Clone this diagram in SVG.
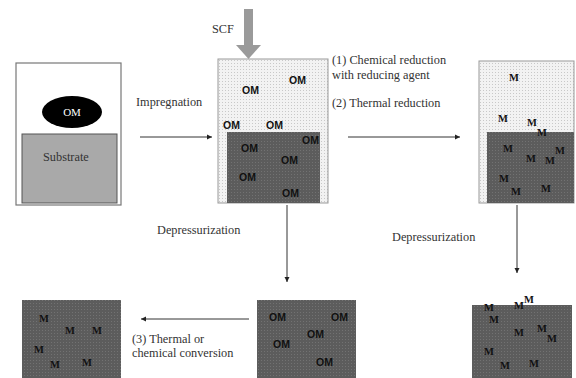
<svg xmlns="http://www.w3.org/2000/svg" width="576" height="378" viewBox="0 0 576 378">
<defs>
<pattern id="light" width="3" height="3" patternUnits="userSpaceOnUse">
<rect width="3" height="3" fill="#f2f2f2"/>
<rect width="1" height="1" fill="#c8c8c8"/>
</pattern>
<pattern id="dark" width="3" height="3" patternUnits="userSpaceOnUse">
<rect width="3" height="3" fill="#5c5c5c"/>
<rect width="1" height="1" fill="#727272"/>
</pattern>
<marker id="ah" markerWidth="6" markerHeight="6" refX="5" refY="3" orient="auto" markerUnits="userSpaceOnUse">
<path d="M0,0.5 L5,3 L0,5.5 Z" fill="#222"/>
</marker>
<style>
.lbl{font-family:"Liberation Serif",serif;font-size:12.3px;fill:#333}
.om{font-family:"Liberation Sans",Arial,sans-serif;font-weight:bold;font-size:10.5px;fill:#111}
.m{font-family:"Liberation Serif",serif;font-weight:bold;font-size:10.5px;fill:#111}
.conn{stroke:#333;stroke-width:1;fill:none;marker-end:url(#ah)}
</style>
</defs>
<rect width="576" height="378" fill="#fff"/>

<g id="connectors">
<line class="conn" x1="140" y1="137" x2="212" y2="137"/>
<line class="conn" x1="348" y1="137" x2="460" y2="137"/>
<line class="conn" x1="287" y1="205" x2="287" y2="282"/>
<line class="conn" x1="517" y1="205" x2="517" y2="273"/>
<line class="conn" x1="249" y1="319" x2="141" y2="319"/>
<g id="scf">
<rect x="244" y="9" width="9" height="37" fill="#9a9a9a"/>
<path d="M236,45 L261,45 L248.5,59 Z" fill="#9a9a9a"/>
</g>
<text class="lbl" x="212" y="33">SCF</text>
<text class="lbl" x="136" y="106">Impregnation</text>
<text class="lbl" x="332" y="64">(1) Chemical reduction</text>
<text class="lbl" x="332" y="79">with reducing agent</text>
<text class="lbl" x="332" y="107">(2) Thermal reduction</text>
<text class="lbl" x="157" y="234">Depressurization</text>
<text class="lbl" x="392" y="241">Depressurization</text>
<text class="lbl" x="132" y="343">(3) Thermal or</text>
<text class="lbl" x="132" y="357">chemical conversion</text>
</g>

<g id="start">
<rect x="16" y="63" width="105" height="142" fill="#fff" stroke="#777" stroke-width="1.2"/>
<rect x="22" y="134" width="95" height="69" fill="#a9a9a9" stroke="#555" stroke-width="1"/>
<ellipse cx="72" cy="112" rx="30" ry="16" fill="#000"/>
<text x="72" y="116" text-anchor="middle" font-family="Liberation Serif,serif" font-size="11" fill="#fff">OM</text>
<text class="lbl" x="43" y="161">Substrate</text>
</g>

<g id="impregnated">
<rect x="218" y="59" width="110" height="144" fill="url(#light)" stroke="#999" stroke-width="1"/>
<rect x="227" y="132" width="93" height="71" fill="url(#dark)"/>
<text class="om" x="242" y="94">OM</text>
<text class="om" x="289" y="84">OM</text>
<text class="om" x="223" y="129">OM</text>
<text class="om" x="266" y="129">OM</text>
<text class="om" x="241" y="152">OM</text>
<text class="om" x="302" y="144">OM</text>
<text class="om" x="281" y="164">OM</text>
<text class="om" x="239" y="181">OM</text>
<text class="om" x="282" y="197">OM</text>
</g>

<g id="reduced">
<rect x="479" y="61" width="95" height="142" fill="url(#light)" stroke="#999" stroke-width="1"/>
<rect x="487" y="132" width="87" height="71" fill="url(#dark)"/>
<text class="m" x="509" y="81">M</text>
<text class="m" x="498" y="122">M</text>
<text class="m" x="527" y="126">M</text>
<text class="m" x="537" y="136">M</text>
<text class="m" x="503" y="152">M</text>
<text class="m" x="526" y="162">M</text>
<text class="m" x="545" y="164">M</text>
<text class="m" x="555" y="154">M</text>
<text class="m" x="499" y="182">M</text>
<text class="m" x="511" y="195">M</text>
<text class="m" x="541" y="192">M</text>
</g>

<g id="depressurized-om">
<rect x="257" y="300" width="99" height="78" fill="url(#dark)"/>
<text class="om" x="269" y="321">OM</text>
<text class="om" x="331" y="321">OM</text>
<text class="om" x="307" y="338">OM</text>
<text class="om" x="273" y="348">OM</text>
<text class="om" x="316" y="366">OM</text>
</g>

<g id="depressurized-m">
<rect x="472" y="305" width="100" height="73" fill="url(#dark)"/>
<text class="m" x="484" y="311">M</text>
<text class="m" x="514" y="309">M</text>
<text class="m" x="524" y="303">M</text>
<text class="m" x="489" y="323">M</text>
<text class="m" x="514" y="336">M</text>
<text class="m" x="537" y="332">M</text>
<text class="m" x="547" y="342">M</text>
<text class="m" x="484" y="355">M</text>
<text class="m" x="500" y="369">M</text>
<text class="m" x="529" y="367">M</text>
</g>

<g id="final">
<rect x="22" y="300" width="99" height="78" fill="url(#dark)"/>
<text class="m" x="39" y="322">M</text>
<text class="m" x="65" y="334">M</text>
<text class="m" x="92" y="334">M</text>
<text class="m" x="34" y="353">M</text>
<text class="m" x="50" y="368">M</text>
<text class="m" x="82" y="366">M</text>
</g>
</svg>
